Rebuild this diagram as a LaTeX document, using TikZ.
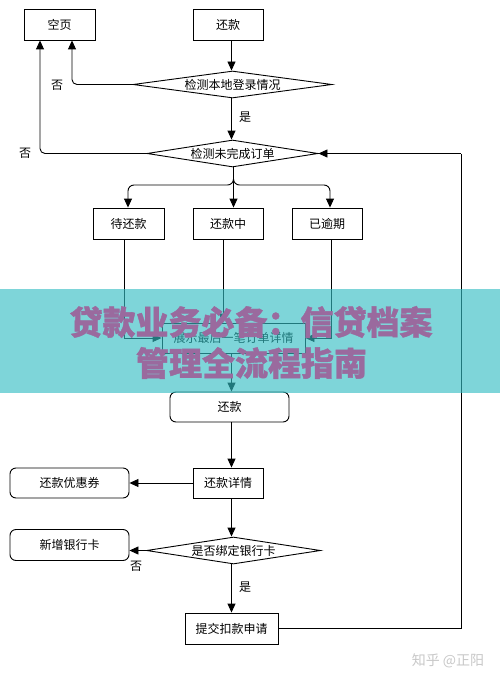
\documentclass[tikz,border=0pt]{standalone}
\usepackage{fontspec}
\setmainfont{Noto Sans CJK SC}
\newfontfamily\heavyfont[BoldFeatures={FakeBold=1.2}]{Noto Sans CJK SC}
\usetikzlibrary{arrows.meta,shapes.geometric,calc}
\definecolor{bandc}{RGB}{52,190,195}
\definecolor{purp}{RGB}{154,106,158}
\definecolor{wm}{RGB}{200,200,200}
\begin{document}
\begin{tikzpicture}[x=1pt,y=-1pt,
  every node/.style={font=\fontsize{12}{14}\selectfont},
  box/.style={draw, line width=0.9pt, inner sep=0pt, minimum height=31pt},
  rbox/.style={box, rounded corners=6pt},
  dia/.style={draw, line width=0.9pt, diamond, aspect=7, inner sep=0pt, minimum height=27pt},
  arr/.style={line width=0.9pt, -{Triangle[length=9pt,width=8pt]}},
  ln/.style={line width=0.9pt},
  lbl/.style={inner sep=0pt},
  bandtext/.style={inner sep=0pt, text=purp, font=\fontsize{33}{38}\selectfont\heavyfont\bfseries}]
\useasboundingbox (0,0) rectangle (500,682);
\fill[white] (0,0) rectangle (500,682);
\coordinate (ax) at (231.5,0);

\node[box, minimum width=71pt] (kongye) at (59.5,24.5) {空页};
\node[box, minimum width=70pt] (hk1) at (228,24.5) {还款};
\node[dia, minimum width=199pt] (d1) at (232.5,84.5) {检测本地登录情况};
\node[dia, minimum width=171pt] (d2) at (232.5,153.5) {检测未完成订单};
\node[box, minimum width=71pt] (dhk) at (128.5,223.5) {待还款};
\node[box, minimum width=70pt] (hkz) at (228,223.5) {还款中};
\node[box, minimum width=70pt] (yyq) at (327,223.5) {已逾期};
\node[box, minimum width=143pt, minimum height=30pt] (zs) at (233.5,338) {展示最后一笔订单详情};
\node[rbox, minimum width=119pt, minimum height=30pt] (hk2) at (229.5,407) {还款};
\node[box, minimum width=70pt, minimum height=30pt] (hkxq) at (228,483) {还款详情};
\node[rbox, minimum width=119pt, minimum height=30pt] (yhq) at (69.5,483) {还款优惠券};
\node[rbox, minimum width=119pt, minimum height=31pt] (xzyhk) at (69.5,545) {新增银行卡};
\node[dia, minimum width=174pt] (d3) at (233.5,550.5) {是否绑定银行卡};
\node[box, minimum width=93pt] (tj) at (231.5,628.5) {提交扣款申请};

% main vertical arrows
\draw[arr] (hk1.south -| ax) -- (d1.north -| ax);
\draw[arr] (d1.south -| ax) -- (d2.north -| ax);
\draw[arr] (zs.south -| ax) -- (hk2.north -| ax);
\draw[arr] (hk2.south -| ax) -- (hkxq.north -| ax);
\draw[arr] (hkxq.south -| ax) -- (d3.north -| ax);
\draw[arr] (d3.south -| ax) -- (tj.north -| ax);

% back to blank page
\draw[arr, rounded corners=5pt] (d1.west) -| ([xshift=12.5pt]kongye.south);
\draw[arr, rounded corners=5pt] (d2.west) -| ([xshift=-19.5pt]kongye.south);
\node[lbl] (no1) at (57,85) {否};
\node[lbl] (no2) at (25,153) {否};
\node[lbl] (yes1) at (245,117) {是};

% branches
\coordinate (j) at (233.5,185);
\draw[arr, rounded corners=6pt] (d2.south -| j) -- (j) -| ([xshift=-0.5pt]dhk.north);
\draw[arr, rounded corners=6pt] (d2.south -| j) -- (j) -| ([xshift=3pt]yyq.north);
\draw[arr] (d2.south -| j) -- (hkz.north -| j);

% into detail box
\draw[arr] ([xshift=-4.5pt]dhk.south) |- (zs.west);
\draw[arr] ([xshift=-5pt]hkz.south) -- ([xshift=-5pt]hkz.south |- zs.north);
\draw[arr] ([xshift=4pt]yyq.south) |- (zs.east);

% side arrows
\draw[arr] (hkxq.west) -- (yhq.east);
\draw[arr] (d3.west) -- (d3.west -| xzyhk.east);
\node[lbl] (no3) at (136,566) {否};
\node[lbl] (yes2) at (245,587) {是};

% loop back
\coordinate (rc) at (461,153.5);
\draw[ln] (tj.east) -| (rc);
\draw[arr] (rc) -- (d2.east);

% overlay band
\fill[bandc, opacity=0.63] (0,289) rectangle (500,392.5);
\node[bandtext] (t1) at (251,322) {贷款业务必备：信贷档案};
\node[bandtext] (t2) at (251.5,363) {管理全流程指南};

% watermark
\node[inner sep=0pt, text=wm, font=\fontsize{14}{16}\selectfont] (wmk) at (448,661) {知乎 @正阳};
\end{tikzpicture}
\end{document}
